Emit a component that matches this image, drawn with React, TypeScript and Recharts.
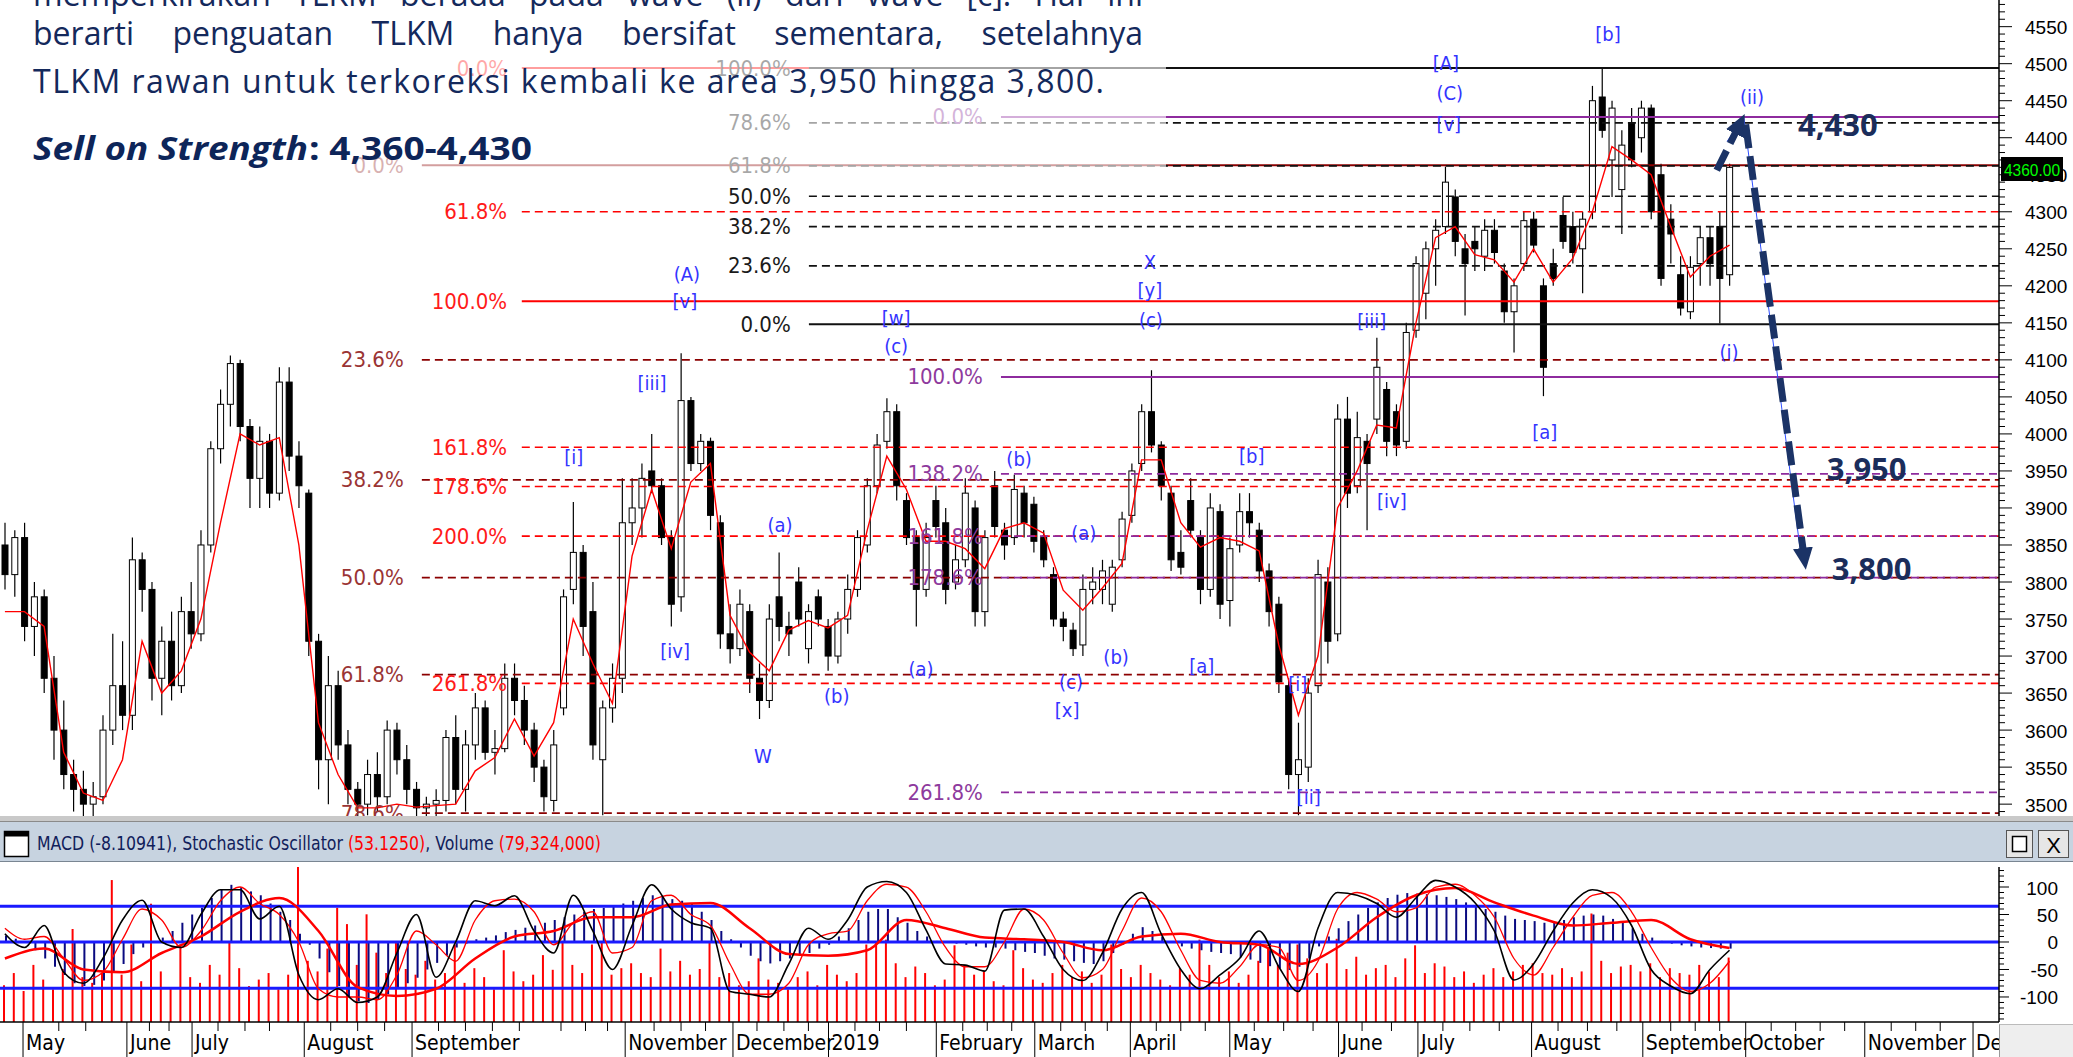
import React from 'react';
import { ComposedChart, Bar, Line, XAxis, YAxis, ReferenceLine, ReferenceDot } from 'recharts';

// TLKM daily candles, two trading days per candle (t = trading-day index)
const OPEN = [3850,3810,3860,3740,3780,3670,3600,3540,3520,3500,
  3510,3600,3660,3620,3830,3790,3670,3720,3660,3760,
  3730,3850,3980,4040,4095,4010,3940,3990,3920,4070,
  3970,3920,3720,3560,3660,3580,3520,3500,3540,3510,
  3600,3560,3520,3495,3500,3505,3590,3520,3580,3630,
  3570,3575,3670,3640,3600,3550,3505,3630,3790,3840,
  3760,3560,3630,3670,3880,3900,3950,3930,3860,3780,
  4045,3960,3990,3880,3730,3710,3760,3670,3640,3780,
  3740,3800,3710,3780,3740,3700,3750,3790,3850,3930,
  3990,4030,3910,3860,3790,3910,3880,3800,3830,3900,
  3760,3930,3870,3860,3920,3905,3860,3810,3750,3735,
  3715,3790,3790,3770,3830,3890,3960,4030,3985,3920,
  3840,3910,3860,3790,3895,3775,3850,3895,3870,3815,
  3770,3660,3540,3550,3660,3800,3730,4020,3930,3990,
  4020,4060,4030,3990,4140,4190,4250,4280,4320,4250,
  4260,4240,4275,4220,4165,4230,4290,4200,4230,4295,
  4280,4250,4300,4455,4370,4330,4420,4400,4440,4350,
  4290,4215,4165,4230,4265,4280,4215];
const HIGH = [3880,3870,3880,3800,3790,3700,3640,3560,3545,3530,
  3620,3730,3720,3860,3840,3800,3740,3760,3780,3800,
  3870,3990,4060,4106,4100,4020,4010,4000,4090,4090,
  3990,3925,3730,3700,3680,3600,3530,3560,3570,3613,
  3610,3580,3530,3510,3520,3600,3620,3600,3650,3640,
  3600,3690,3690,3660,3610,3560,3600,3790,3908,3850,
  3800,3640,3690,3940,3940,3960,4000,3940,3870,4109,
  4050,4000,3995,3890,3770,3790,3770,3690,3770,3840,
  3760,3820,3770,3790,3750,3760,3810,3870,3940,4000,
  4048,4040,3920,3870,3880,3930,3900,3850,3940,3910,
  3870,3950,3880,3945,3930,3915,3870,3820,3760,3745,
  3810,3820,3830,3830,3895,3960,4040,4086,3990,3930,
  3870,3940,3870,3920,3905,3860,3920,3920,3880,3825,
  3780,3670,3610,3670,3830,3820,4040,4050,4030,4000,
  4130,4070,4040,4150,4240,4260,4290,4361,4330,4270,
  4280,4290,4290,4230,4210,4300,4300,4210,4250,4320,
  4300,4300,4470,4494,4450,4410,4440,4450,4445,4365,
  4310,4240,4240,4280,4280,4300,4365];
const LOW = [3790,3780,3720,3700,3650,3560,3520,3490,3480,3480,
  3500,3580,3600,3600,3760,3640,3620,3640,3650,3710,
  3720,3840,3960,4010,3990,3900,3900,3900,3910,3950,
  3900,3700,3520,3500,3560,3500,3480,3485,3490,3500,
  3540,3500,3480,3480,3480,3490,3500,3490,3560,3560,
  3540,3570,3620,3580,3530,3490,3490,3620,3770,3700,
  3560,3485,3610,3650,3850,3860,3920,3850,3740,3760,
  3950,3950,3870,3710,3690,3700,3650,3615,3630,3720,
  3700,3740,3690,3740,3680,3690,3730,3780,3840,3920,
  3980,3910,3850,3740,3780,3860,3770,3790,3820,3740,
  3740,3860,3830,3850,3860,3840,3820,3740,3720,3700,
  3700,3770,3770,3760,3820,3880,3950,3975,3910,3815,
  3810,3860,3770,3780,3750,3740,3840,3860,3800,3740,
  3650,3520,3485,3530,3650,3690,3720,3900,3920,3870,
  4000,3970,3970,3980,4130,4155,4200,4270,4240,4160,
  4220,4220,4230,4150,4110,4220,4245,4051,4200,4250,
  4230,4190,4290,4400,4320,4270,4360,4380,4290,4200,
  4230,4160,4155,4200,4200,4149,4200];
const CLOSE = [3810,3860,3740,3780,3670,3600,3540,3520,3500,3510,
  3600,3660,3620,3830,3790,3670,3720,3660,3760,3730,
  3850,3980,4040,4095,4010,3940,3990,3920,4070,3970,
  3930,3720,3560,3660,3580,3520,3500,3540,3510,3600,
  3560,3520,3495,3500,3505,3590,3520,3580,3630,3570,
  3575,3670,3640,3600,3550,3510,3580,3780,3840,3740,
  3580,3630,3670,3880,3900,3940,3930,3860,3770,4045,
  3960,3990,3890,3730,3710,3770,3670,3640,3750,3740,
  3730,3750,3760,3750,3700,3750,3790,3860,3930,3985,
  4030,3930,3860,3790,3860,3875,3790,3830,3920,3760,
  3860,3875,3850,3925,3880,3855,3830,3750,3740,3710,
  3790,3800,3815,3820,3885,3950,4030,3985,3930,3830,
  3820,3870,3790,3900,3770,3845,3895,3880,3815,3760,
  3665,3540,3560,3650,3810,3720,4020,3920,3995,3960,
  4090,3990,3985,4137,4230,4250,4275,4340,4260,4230,
  4250,4275,4245,4165,4200,4288,4255,4090,4210,4260,
  4245,4290,4450,4410,4440,4390,4370,4440,4300,4210,
  4270,4170,4225,4265,4230,4210,4360];

// red moving average, read at every second candle
const MOVING_AVG = [3760,3760,3740,3570,3515,3505,3560,3720,3650,3680,
  3750,3880,4000,3985,3995,3850,3610,3540,3495,3495,
  3500,3496,3498,3500,3545,3563,3615,3565,3610,3750,
  3690,3636,3835,3925,3845,3935,3960,3755,3705,3680,
  3735,3748,3738,3755,3870,3970,3925,3855,3855,3845,
  3818,3872,3880,3866,3789,3762,3792,3825,3965,3965,
  3880,3847,3860,3855,3842,3715,3620,3700,3900,3950,
  4012,4008,4150,4265,4280,4242,4235,4205,4250,4205,
  4237,4300,4388,4370,4350,4280,4212,4240,4255];

// stochastic %K / %D, every second candle
const STOCH_K = [15,-10,30,-55,-75,-30,40,76,0,-10,50,95,95,42,65,-60,-105,-85,-110,-100,
  -20,50,-64,0,75,66,84,20,-20,85,20,-50,30,104,60,35,25,-90,-95,-100,
  -40,25,5,40,100,110,90,22,-40,-42,-53,58,60,10,-50,-70,-20,60,90,15,
  -50,-85,-60,-30,20,-45,-90,25,90,85,70,45,80,112,100,72,20,-69,-40,20,
  71,95,80,30,-50,-80,-94,-50,-15];
const STOCH_D = [25,5,10,-30,-70,-55,5,60,40,-10,20,75,100,70,50,0,-85,-100,-100,-105,
  -60,20,-5,-35,40,75,78,55,-5,35,55,-20,-10,75,85,50,30,-40,-95,-95,
  -75,-5,15,20,75,105,100,55,-10,-45,-45,0,60,40,-20,-65,-50,20,80,55,
  -15,-70,-75,-45,-5,-10,-70,-35,60,90,78,55,62,100,105,85,45,-30,-60,-10,
  45,85,90,55,-10,-65,-90,-75,-35];
// MACD signal, every fourth candle
const MACD_SIGNAL = [-30,-12,-50,-55,-20,10,55,80,20,-82,-98,-85,-30,10,20,45,45,68,71,25,
  -22,-25,-15,40,25,8,5,0,-15,10,15,0,-5,-40,-10,45,85,98,72,48,30,35,40,5,-11];
// MACD histogram, every candle
const MACD_HIST = [12,6,0,-15,-30,-45,-60,-75,-80,-78,
  -70,-55,-40,-22,-10,0,8,20,35,50,
  62,80,95,104,100,92,85,70,55,40,
  15,-5,-30,-55,-80,-100,-108,-111,-105,-95,
  -85,-75,-65,-50,-38,-25,-10,-3,5,8,
  12,18,22,26,30,35,40,45,50,55,
  60,62,65,70,75,80,85,82,78,75,
  70,55,40,20,5,-10,-25,-35,-39,-35,
  -30,-25,-20,-12,-5,10,25,40,55,60,
  60,45,35,20,10,2,0,-3,-5,-8,
  -10,-10,-12,-15,-18,-20,-25,-30,-32,-35,
  -38,-40,-35,-20,-5,15,27,20,10,0,
  -8,-12,-15,-18,-20,-22,-28,-32,-38,-44,
  -48,-51,-45,-30,-8,10,25,38,50,62,
  72,80,86,89,88,87,85,82,78,72,
  66,60,55,48,42,40,38,35,36,40,
  45,48,50,48,42,35,25,15,8,2,
  -3,-6,-8,-10,-11,-12,-12];
// volume in millions of shares
const VOLUME = [45,60,38,70,52,40,65,114,55,48,
  60,174,58,95,50,145,62,42,95,55,
  48,70,58,99,66,44,52,60,40,58,
  271,75,62,90,140,120,70,132,85,60,
  99,65,58,75,52,60,95,48,66,55,
  40,88,62,50,58,82,64,99,70,60,
  95,99,58,66,72,60,55,90,62,75,
  58,65,99,55,60,45,50,78,52,48,
  40,55,62,45,70,58,50,60,95,99,
  101,72,55,68,60,45,52,94,70,58,
  62,50,45,88,66,52,48,60,70,55,
  62,48,58,95,65,55,70,60,52,45,
  66,58,101,70,55,62,48,58,75,90,
  70,85,95,78,60,72,102,65,80,58,
  66,70,55,78,94,60,72,68,55,62,
  48,58,66,55,62,70,72,60,58,66,
  55,62,133,75,60,68,70,62,72,55,
  66,60,58,70,62,55,79];

const MONTH_TICKS = [4.7, 25.9, 39.2, 62.1, 84.1, 127.6, 149.6, 169.1, 191.1, 211.2, 230.7, 251, 273.2, 289.4, 312.6, 335.3, 356.3, 380.6, 402.7];
const MONTH_LABELS = ['May', 'June', 'July', 'August', 'September', 'November', 'December', '2019', 'February', 'March', 'April', 'May', 'June', 'July', 'August', 'September', 'October', 'November', 'December'];
const WEEK_TICKS = [12, 17.5, 30.5, 34.5, 44.5, 50, 55, 67.5, 73, 78.5, 89.5, 95, 100.5, 106, 114.5, 119.5, 124, 133.5, 139, 144, 154.5, 160, 165, 174.5, 179.5, 185, 196.5, 201.5, 206.5, 216.5, 221.5, 226, 236, 241, 246, 256, 262, 268, 278, 284, 294.5, 300, 306, 318, 324, 330, 341, 346, 351, 361.5, 366.5, 371.5, 376.5, 386, 391, 396];
const OSC_TICKS = [100, 50, 0, -50, -100];
const OSC_LEVELS = [65, 0, -84];

// fibonacci groups
const BROWN_LABELS = ['0.0%', '23.6%', '38.2%', '50.0%', '61.8%', '78.6%'];
const BROWN_PRICES = [4363, 4100, 3938, 3806, 3675, 3488];
const RED_LABELS = ['0.0%', '61.8%', '100.0%', '161.8%', '178.6%', '200.0%', '261.8%'];
const RED_PRICES = [4494, 4300, 4179, 3982, 3929, 3862, 3663];
const BLACK_LABELS = ['100.0%', '78.6%', '61.8%', '50.0%', '38.2%', '23.6%', '0.0%'];
const BLACK_PRICES = [4494, 4420, 4362, 4321, 4280, 4227, 4148];
const PURPLE_LABELS = ['0.0%', '100.0%', '138.2%', '161.8%', '178.6%', '261.8%'];
const PURPLE_PRICES = [4428, 4077, 3946, 3862, 3806, 3516];

// elliott wave labels
const WAVE_TEXT = ['(A)', '[v]', '[iii]', '[i]', '[iv]', 'W', '(a)', '(b)', '(c)', '[w]', '(a)', '(b)', '(a)', '(c)', '[x]', '(b)', 'X', '[y]', '(c)', '[a]', '[b]', '[i]', '[ii]', '[iv]', '[iii]', '[A]', '(C)', '[v]', '[a]', '[b]', '(i)', '(ii)'];
const WAVE_T = [140.2, 139.8, 133.1, 117.1, 137.8, 155.7, 159.2, 170.8, 182.9, 182.9, 188, 208, 221.2, 218.6, 217.8, 227.8, 234.7, 234.7, 234.9, 245.3, 255.5, 264.9, 267.1, 284.1, 280, 295.1, 295.9, 295.7, 315.3, 328.2, 352.9, 357.6];
const WAVE_P = [4216, 4179, 4069, 3969, 3707, 3565, 3877, 3646, 4119, 4156, 3682, 3966, 3866, 3665, 3627, 3699, 4232, 4194, 4154, 3687, 3970, 3662, 3510, 3909, 4152, 4501, 4460, 4418, 4002, 4540, 4110, 4455];

const TARGET_TEXT = ['4,430', '3,950', '3,800'];
const TARGET_T = [375.1, 381, 382];
const TARGET_P = [4418, 3954, 3819];

const NARROW = "'Liberation Sans Narrow', 'Arial Narrow', 'DejaVu Sans Condensed', sans-serif";
const ARIAL = "'Liberation Sans', Arial, sans-serif";
const NAVY = '#14295c';

const data = CLOSE.map((c, i) => ({
  t: 2 * i + 1,
  o: OPEN[i], h: HIGH[i], l: LOW[i], c,
  ma: i % 2 === 0 ? MOVING_AVG[i / 2] : undefined,
  k: i % 2 === 0 ? STOCH_K[i / 2] : undefined,
  d: i % 2 === 0 ? STOCH_D[i / 2] : undefined,
  sig: i % 4 === 0 ? MACD_SIGNAL[i / 4] : undefined,
  hist: MACD_HIST[i],
  vol: VOLUME[i],
}));

const FIB_GROUPS = [
  { labels: BROWN_LABELS, prices: BROWN_PRICES, labelT: 82.4, startT: 86.1, line: '#8b0000', text: '#9a3434', solid: ['0.0%'] },
  { labels: RED_LABELS, prices: RED_PRICES, labelT: 103.5, startT: 106.5, line: '#ff0000', text: '#ff1a1a', solid: ['0.0%', '100.0%'] },
  { labels: BLACK_LABELS, prices: BLACK_PRICES, labelT: 161.4, startT: 165.1, line: '#111111', text: '#1a1a1a', solid: ['100.0%', '0.0%'] },
  { labels: PURPLE_LABELS, prices: PURPLE_PRICES, labelT: 200.6, startT: 204.3, line: '#8e2b9e', text: '#8e3a9d', solid: ['0.0%', '100.0%'] },
];

const PRICE_MINOR = Array.from({ length: 110 }, (_, i) => 3490 + i * 10);
const OSC_MINOR = Array.from({ length: 28 }, (_, i) => -140 + i * 10);

const Candle = (props: any) => {
  const { x, y, width, height, payload } = props;
  if (x == null || !payload) return null;
  const { o, h, l, c } = payload;
  const top = height < 0 ? y + height : y;
  const hh = Math.abs(height);
  const k = hh / (h - l || 1);
  const yO = top + (h - o) * k;
  const yC = top + (h - c) * k;
  const cx = x + width / 2;
  const up = c >= o;
  return (
    <g>
      <line x1={cx} x2={cx} y1={top} y2={top + hh} stroke="#000" strokeWidth={1.2} />
      <rect x={x} y={Math.min(yO, yC)} width={width} height={Math.max(Math.abs(yO - yC), 1)} fill={up ? '#fff' : '#000'} stroke="#000" strokeWidth={1} />
    </g>
  );
};

const PriceTick = ({ x, y, payload }: any) => {
  const v = payload.value;
  const major = v % 50 === 0;
  return (
    <g>
      <line x1={x} x2={x + (major ? 13 : 6)} y1={y} y2={y} stroke="#000" strokeWidth={1} />
      {major && <text x={x + 26} y={y + 1} dominantBaseline="central" fontSize={19} fontFamily={ARIAL} fill="#000">{v}</text>}
    </g>
  );
};

const OscTick = ({ x, y, payload }: any) => {
  const v = payload.value;
  const major = OSC_TICKS.includes(v);
  return (
    <g>
      <line x1={x} x2={x + (major ? 10 : 5)} y1={y} y2={y} stroke="#000" strokeWidth={1} />
      {major && <text x={2058} y={y + 1} textAnchor="end" dominantBaseline="central" fontSize={19} fontFamily={ARIAL} fill="#000">{v}</text>}
    </g>
  );
};

const DateTick = ({ x, y, payload }: any) => {
  const idx = MONTH_TICKS.indexOf(payload.value);
  if (idx < 0) return <line x1={x} x2={x} y1={y} y2={y + 9} stroke="#000" />;
  return (
    <g>
      <line x1={x} x2={x} y1={y} y2={y + 35} stroke="#000" />
      <text x={x + 3} y={y + 28} fontSize={21} fontFamily={NARROW} fill="#000">{MONTH_LABELS[idx]}</text>
    </g>
  );
};

const textShape = (txt: string, color: string, size: number, anchor: string, family: string, weight = 400) => (s: any) => (
  <text x={s.cx} y={s.cy} textAnchor={anchor} dominantBaseline="central" fontSize={size} fontFamily={family} fontWeight={weight} fill={color}>{txt}</text>
);

const PriceChart = () => (
  <ComposedChart width={2073} height={816} data={data} margin={{ top: 0, right: 0, bottom: 0, left: 0 }}>
    <defs>
      <marker id="arrowHead" markerWidth="24" markerHeight="20" refX="12" refY="10" orient="auto" markerUnits="userSpaceOnUse">
        <path d="M0,0 L22,10 L0,20 z" fill="#1b3366" />
      </marker>
    </defs>
    <XAxis type="number" dataKey="t" domain={[0, 408]} hide allowDataOverflow />
    <YAxis orientation="right" type="number" domain={[3484, 4586]} allowDataOverflow width={74}
      ticks={PRICE_MINOR} interval={0} tick={<PriceTick />} tickLine={false} tickSize={0} tickMargin={0}
      axisLine={{ stroke: '#000', strokeWidth: 1.5 }} />
    {FIB_GROUPS.flatMap((g, gi) => g.prices.map((p, j) => {
      const solid = g.solid.includes(g.labels[j]);
      return (
        <ReferenceLine key={`fl${gi}-${j}`} segment={[{ x: g.startT, y: p }, { x: 408, y: p }]}
          stroke={g.line} strokeWidth={solid ? 2 : 1.7} strokeDasharray={solid ? undefined : '8 5'} ifOverflow="visible" />
      );
    }))}
    <Bar dataKey={(d: any) => [d.l, d.h]} barSize={6} shape={(p: any) => <Candle {...p} />} isAnimationActive={false} />
    <Line dataKey="ma" stroke="#ff0000" strokeWidth={1.4} dot={false} connectNulls isAnimationActive={false} />
    {FIB_GROUPS.flatMap((g, gi) => g.prices.map((p, j) => (
      <ReferenceDot key={`fd${gi}-${j}`} x={g.labelT} y={p} r={0} ifOverflow="visible"
        shape={textShape(g.labels[j], g.text, 22, 'end', NARROW)} />
    )))}
    {WAVE_TEXT.map((w, i) => (
      <ReferenceDot key={`w${i}`} x={WAVE_T[i]} y={WAVE_P[i]} r={0} ifOverflow="visible"
        shape={textShape(w, '#3434ff', 20, 'middle', NARROW)} />
    ))}
    <ReferenceLine segment={[{ x: 352.5, y: 4395 }, { x: 355.9, y: 4428 }]} stroke="#2f4fff" strokeWidth={1} ifOverflow="visible" />
    <ReferenceLine segment={[{ x: 355.9, y: 4428 }, { x: 367.5, y: 3840 }]} stroke="#2f4fff" strokeWidth={1} ifOverflow="visible" />
    <ReferenceLine segment={[{ x: 350.4, y: 4356 }, { x: 355.2, y: 4420 }]} stroke="#1b3366" strokeWidth={7}
      strokeDasharray="22 8" markerEnd="url(#arrowHead)" ifOverflow="visible" />
    <ReferenceLine segment={[{ x: 356.3, y: 4418 }, { x: 368.3, y: 3830 }]} stroke="#1b3366" strokeWidth={7}
      strokeDasharray="24 8" markerEnd="url(#arrowHead)" ifOverflow="visible" />
    {TARGET_TEXT.map((s, i) => (
      <ReferenceDot key={`tg${i}`} x={TARGET_T[i]} y={TARGET_P[i]} r={0} ifOverflow="visible"
        shape={textShape(s, '#1b2d5b', 31, 'middle', "'Open Sans', sans-serif", 700)} />
    ))}
  </ComposedChart>
);

const LowerChart = () => (
  <ComposedChart width={2073} height={195} data={data} margin={{ top: 5, right: 0, bottom: 0, left: 0 }} barGap={0}>
    <XAxis type="number" dataKey="t" domain={[0, 408]} allowDataOverflow height={35}
      ticks={[...MONTH_TICKS, ...WEEK_TICKS]} interval={0} tick={<DateTick />} tickLine={false} tickSize={0} tickMargin={0}
      axisLine={{ stroke: '#000', strokeWidth: 1.5 }} />
    <YAxis yAxisId="osc" orientation="right" type="number" domain={[-145.5, 136.4]} allowDataOverflow width={74}
      ticks={OSC_MINOR} interval={0} tick={<OscTick />} tickLine={false} tickSize={0} tickMargin={0}
      axisLine={{ stroke: '#000', strokeWidth: 1.5 }} />
    <YAxis yAxisId="vol" hide type="number" domain={[0, 190]} allowDataOverflow />
    <Bar yAxisId="vol" dataKey="vol" fill="#ff0000" barSize={2} isAnimationActive={false} />
    <Bar yAxisId="osc" dataKey="hist" fill="#0a0a80" barSize={2} isAnimationActive={false} />
    {OSC_LEVELS.map((v) => (
      <ReferenceLine key={`ol${v}`} yAxisId="osc" y={v} stroke="#1a1aff" strokeWidth={3} />
    ))}
    <Line yAxisId="osc" dataKey="sig" stroke="#ff0000" strokeWidth={2.5} type="monotone" dot={false} connectNulls isAnimationActive={false} />
    <Line yAxisId="osc" dataKey="d" stroke="#ff0000" strokeWidth={1.3} type="monotone" dot={false} connectNulls isAnimationActive={false} />
    <Line yAxisId="osc" dataKey="k" stroke="#000000" strokeWidth={1.6} type="monotone" dot={false} connectNulls isAnimationActive={false} />
  </ComposedChart>
);

export default function App() {
  return (
    <div style={{ position: 'absolute', left: 0, top: 0, width: 2073, height: 1057, background: '#fff', overflow: 'hidden' }}>
      <div style={{ position: 'absolute', left: 0, top: 0 }}>
        <PriceChart />
      </div>
      {/* translucent text box */}
      <div style={{ position: 'absolute', left: 0, top: 0, width: 1166, height: 175, background: 'rgba(255,255,255,0.62)' }} />
      <div style={{ position: 'absolute', left: 33, top: -22, width: 1110, fontFamily: "'Open Sans', sans-serif", fontSize: 32, lineHeight: '32px', color: NAVY, textAlign: 'justify', textAlignLast: 'justify' }}>
        memperkirakan TLKM berada pada wave (ii) dari wave [c]. Hal ini
      </div>
      <div style={{ position: 'absolute', left: 33, top: 17, width: 1110, fontFamily: "'Open Sans', sans-serif", fontSize: 32, lineHeight: '32px', color: NAVY, textAlign: 'justify', textAlignLast: 'justify' }}>
        berarti penguatan TLKM hanya bersifat sementara, setelahnya
      </div>
      <svg style={{ position: 'absolute', left: 0, top: 0 }} width={1170} height={180}>
        <text x={33} y={93} fontFamily="'Open Sans', sans-serif" fontSize={32} fill={NAVY} textLength={1071} lengthAdjust="spacing">
          TLKM rawan untuk terkoreksi kembali ke area 3,950 hingga 3,800.
        </text>
        <text x={33} y={160} fontFamily="'Open Sans', sans-serif" fontSize={33} fontWeight={700} fontStyle="italic" fill="#0d2559" textLength={275} lengthAdjust="spacingAndGlyphs">
          Sell on Strength
        </text>
        <text x={309} y={160} fontFamily="'Open Sans', sans-serif" fontSize={33} fontWeight={700} fill="#0d2559" textLength={223} lengthAdjust="spacingAndGlyphs">
          : 4,360-4,430
        </text>
      </svg>
      {/* last price box */}
      <svg style={{ position: 'absolute', left: 2001, top: 157 }} width={62} height={24}>
        <rect x={0} y={0} width={62} height={24} fill="#000" />
        <text x={3} y={13} dominantBaseline="central" fontFamily={ARIAL} fontSize={17} fill="#00ff00" textLength={56} lengthAdjust="spacingAndGlyphs">4360.00</text>
      </svg>
      {/* indicator header */}
      <svg style={{ position: 'absolute', left: 0, top: 816 }} width={2073} height={46}>
        <rect x={0} y={0} width={2073} height={6} fill="#c9c9c9" />
        <line x1={0} x2={2073} y1={5.5} y2={5.5} stroke="#8a8a8a" />
        <rect x={0} y={6} width={2073} height={40} fill="#c7d3e0" />
        <line x1={0} x2={2073} y1={45.5} y2={45.5} stroke="#7a8692" />
        <rect x={4.5} y={15.5} width={24} height={25} fill="#fff" stroke="#000" strokeWidth={1.5} />
        <rect x={4.5} y={15.5} width={24} height={5} fill="#000" />
        <text x={37} y={27} dominantBaseline="central" fontFamily={NARROW} fontSize={20} textLength={564} lengthAdjust="spacingAndGlyphs">
          <tspan fill="#10205a">MACD (-8.10941), Stochastic Oscillator </tspan>
          <tspan fill="#ff0000">(53.1250)</tspan>
          <tspan fill="#10205a">, Volume </tspan>
          <tspan fill="#ff0000">(79,324,000)</tspan>
        </text>
        <rect x={2006.5} y={14.5} width={26} height={27} fill="#e6e6e6" stroke="#555" />
        <rect x={2012.5} y={20.5} width={14} height={15} fill="#fff" stroke="#000" strokeWidth={1.5} />
        <rect x={2038.5} y={14.5} width={30} height={27} fill="#e6e6e6" stroke="#555" />
        <text x={2053.5} y={29} textAnchor="middle" dominantBaseline="central" fontFamily={ARIAL} fontSize={22} fill="#000">X</text>
      </svg>
      <div style={{ position: 'absolute', left: 0, top: 862 }}>
        <LowerChart />
      </div>
      <div style={{ position: 'absolute', left: 1999, top: 1024, width: 74, height: 33, background: '#eeeeee', borderLeft: '1px solid #999', borderTop: '1px solid #bbb' }} />
    </div>
  );
}
